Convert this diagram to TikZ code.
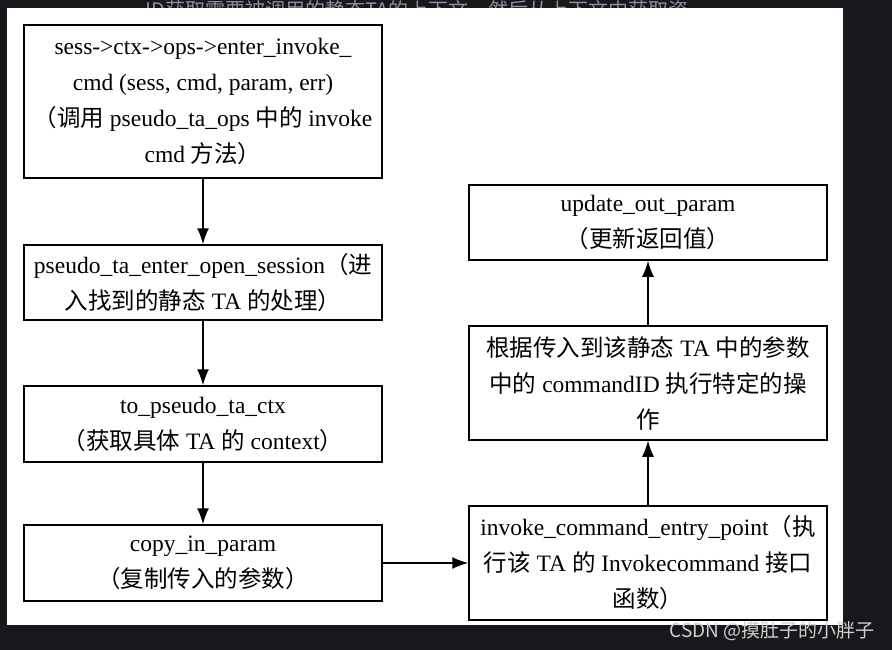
\documentclass[tikz,border=0pt]{standalone}
\usepackage{fontspec}
\setmainfont{Liberation Serif}
\newfontfamily\cjk{Noto Sans CJK SC}
\newcommand{\zh}[1]{{\cjk #1}}
\usepackage{xcolor}
\usetikzlibrary{arrows.meta}
\definecolor{pagebg}{HTML}{17181C}
\definecolor{fadetext}{HTML}{8A8F98}
\definecolor{markgrey}{HTML}{CFCFCF}

\begin{document}
\begin{tikzpicture}[x=1pt,y=-1pt,
  box/.style={draw,line width=1.5pt,align=center,inner sep=0pt,minimum width=358pt,
    font=\fontsize{23.5}{36}\selectfont},
  link/.style={line width=1.5pt,-{Latex[length=16pt,width=12pt]}}]

\useasboundingbox (0,0) rectangle (892,650);
\clip (0,0) rectangle (892,650);

% page behind the figure
\fill[pagebg] (0,0) rectangle (892,650);
\node[text=fadetext,font=\cjk\fontsize{20}{20}\selectfont] (toptext) at (417,10)
  {ID获取需要被调用的静态TA的上下文，然后从上下文中获取资};
\fill[white] (7,8) rectangle (843,625);

% left column
\node[box,minimum height=153pt] (invokecmd) at (203,101.5)
  {sess->ctx->ops->enter\_invoke\_\\
   cmd (sess, cmd, param, err)\\
   \zh{（调用} pseudo\_ta\_ops \zh{中的} invoke\\
   cmd \zh{方法）}};
\node[box,minimum height=75pt] (opensess) at (203,282.5)
  {pseudo\_ta\_enter\_open\_session\zh{（进}\\
   \zh{入找到的静态} TA \zh{的处理）}};
\node[box,minimum height=76pt] (getctx) at (203,424)
  {to\_pseudo\_ta\_ctx\\
   \zh{（获取具体} TA \zh{的} context\zh{）}};
\node[box,minimum height=76pt] (copyin) at (203,563)
  {copy\_in\_param\\
   \zh{（复制传入的参数）}};

% right column
\node[box,minimum height=114pt] (entry) at (648,563)
  {invoke\_command\_entry\_point\zh{（执}\\
   \zh{行该} TA \zh{的} Invokecommand \zh{接口}\\
   \zh{函数）}};
\node[box,minimum height=114pt] (dispatch) at (648,383)
  {\zh{根据传入到该静态} TA \zh{中的参数}\\
   \zh{中的} commandID \zh{执行特定的操}\\
   \zh{作}};
\node[box,minimum height=75pt] (update) at (648,222.5)
  {update\_out\_param\\
   \zh{（更新返回值）}};

\draw[link] (invokecmd) -- (opensess);
\draw[link] (opensess) -- (getctx);
\draw[link] (getctx) -- (copyin);
\draw[link] (copyin) -- (entry);
\draw[link] (entry) -- (dispatch);
\draw[link] (dispatch) -- (update);

\node[anchor=east,text=markgrey,font=\cjk\fontsize{19}{19}\selectfont] (mark) at (878,631)
  {CSDN @摸肚子的小胖子};
\end{tikzpicture}
\end{document}
